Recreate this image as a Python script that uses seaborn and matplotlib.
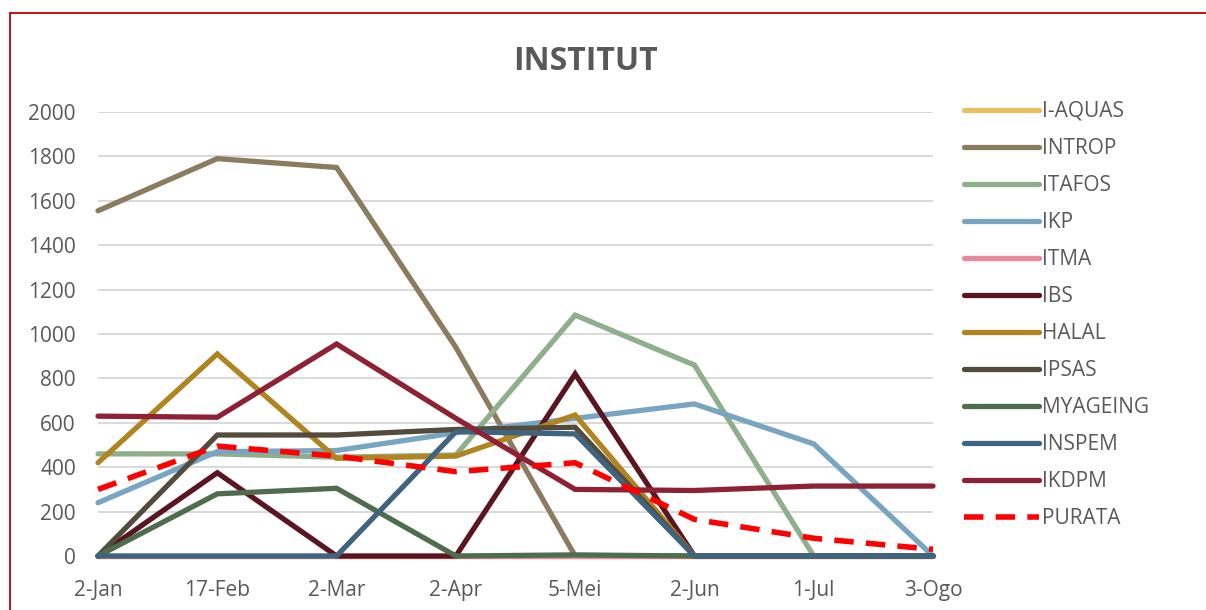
import numpy as np
import pandas as pd
import matplotlib
matplotlib.use('Agg')
import matplotlib.pyplot as plt
from matplotlib.lines import Line2D
import seaborn as sns

dates = ['2-Jan', '17-Feb', '2-Mar', '2-Apr', '5-Mei', '2-Jun', '1-Jul', '3-Ogo']

i_aquas  = [0, 0, 0, 0, 0, 0, 0, 0]
introp   = [1555, 1790, 1750, 940, 0, 0, 0, 0]
itafos   = [460, 460, 445, 455, 1085, 860, 0, 0]
ikp      = [240, 470, 475, 555, 620, 685, 505, 0]
itma     = [0, 0, 0, 0, 0, 0, 0, 0]
ibs      = [0, 375, 0, 0, 820, 0, 0, 0]
halal    = [420, 910, 440, 450, 635, 0, 0, 0]
ipsas    = [0, 545, 545, 570, 580, 0, 0, 0]
myageing = [0, 280, 305, 0, 5, 0, 0, 0]
inspem   = [0, 0, 0, 560, 550, 0, 0, 0]
ikdpm    = [630, 625, 955, 620, 300, 295, 315, 315]
purata   = [300, 495, 450, 380, 420, 165, 80, 30]

series = {
    'I-AQUAS': i_aquas, 'INTROP': introp, 'ITAFOS': itafos, 'IKP': ikp,
    'ITMA': itma, 'IBS': ibs, 'HALAL': halal, 'IPSAS': ipsas,
    'MYAGEING': myageing, 'INSPEM': inspem, 'IKDPM': ikdpm, 'PURATA': purata,
}
colors = {
    'I-AQUAS': '#E8BF62', 'INTROP': '#8B7B5F', 'ITAFOS': '#8FAE8C', 'IKP': '#77A5C2',
    'ITMA': '#E8889A', 'IBS': '#5A1521', 'HALAL': '#B0841E', 'IPSAS': '#534B3B',
    'MYAGEING': '#4E6D4E', 'INSPEM': '#3F6480', 'IKDPM': '#8E2134', 'PURATA': '#FF0000',
}

sns.set_theme(style='white')
plt.rcParams['font.family'] = ['Open Sans', 'DejaVu Sans']

fig = plt.figure(figsize=(12.06, 6.10), dpi=100)
ax = fig.add_axes([98/1206, 1 - 556/610, 835/1206, 444/610])

xs = np.arange(len(dates))
dash = (0, (3.5, 2.2))
for name, vals in series.items():
    df = pd.DataFrame({'x': xs, 'y': vals})
    if name == 'PURATA':
        sns.lineplot(data=df, x='x', y='y', ax=ax, color=colors[name], lw=4,
                     linestyle=dash, zorder=5, clip_on=False)
    else:
        sns.lineplot(data=df, x='x', y='y', ax=ax, color=colors[name], lw=3.8,
                     solid_joinstyle='miter', clip_on=False)

ax.set_xlim(0, len(dates) - 1)
ax.set_ylim(0, 2000)
ax.set_yticks(range(0, 2001, 200))
ax.set_xticks(xs)
ax.set_xticklabels(dates)
ax.set_xlabel('')
ax.set_ylabel('')
ax.yaxis.grid(True, color='#D9D9D9', lw=1.4)
ax.set_axisbelow(True)
for s in ax.spines.values():
    s.set_visible(False)
ax.tick_params(axis='both', length=0, labelsize=15, colors='#595959')
ax.tick_params(axis='x', pad=17)
ax.tick_params(axis='y', pad=16)

fig.text(585/1206, 1 - 62/610, 'INSTITUT', ha='center', va='center',
         fontsize=23, fontweight='bold', color='#595959')

handles = []
for name in series:
    if name == 'PURATA':
        handles.append(Line2D([], [], color=colors[name], lw=4, linestyle=dash))
    else:
        handles.append(Line2D([], [], color=colors[name], lw=3.8, solid_capstyle='round'))
fig.legend(handles, list(series.keys()), loc='upper left',
           bbox_to_anchor=(964/1206, 1 - 101/610), frameon=False, fontsize=15,
           handlelength=3.6, handletextpad=0.15, labelspacing=0.77, borderpad=0,
           borderaxespad=0, labelcolor='#595959')

# red frame of the chart object
fig.add_artist(Line2D([10/1206, 10/1206], [0, 1 - 13/610], color='#C00000', lw=1.3,
                      transform=fig.transFigure))
fig.add_artist(Line2D([10/1206, 1], [1 - 13/610, 1 - 13/610], color='#C00000', lw=1.3,
                      transform=fig.transFigure))

plt.savefig('out.png', dpi=100)
